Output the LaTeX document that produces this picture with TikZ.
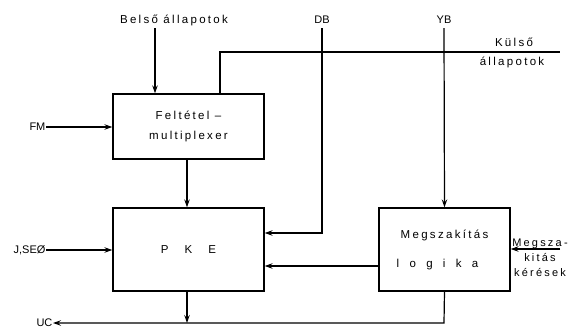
\documentclass[tikz,border=0pt]{standalone}
\usepackage{fontspec}
\setmainfont{Liberation Sans}
\newfontfamily\spaced{Liberation Sans}[LetterSpace=20]
\newfontfamily\wide{Liberation Sans}[LetterSpace=90]
\usetikzlibrary{arrows.meta}
\begin{document}
\begin{tikzpicture}[x=1pt,y=-1pt,
  line width=1.2pt,
  arr/.style={-{Stealth[length=8pt,width=5.5pt,inset=3pt]}},
  box/.style={draw,line width=1.3pt,inner sep=0pt,align=center},
  lbl/.style={font=\spaced\fontsize{11.5}{20}\selectfont,inner sep=0pt,align=center},
  plain/.style={font=\fontsize{11}{12}\selectfont,inner sep=0pt}]
\useasboundingbox (0,0) rectangle (574,330);
% boxes
\node[box,lbl,minimum width=151pt,minimum height=65pt] (fm) at (188.5,126.5) {Feltétel –\\multiplexer};
\node[box,lbl,minimum width=151pt,minimum height=83pt] (pke) at (188.5,249.5) {P\hspace{1.4em}K\hspace{1.4em}E};
\node[box,lbl,minimum width=131pt,minimum height=83pt] (ml) at (444.5,249.5) {Megszakítás\\[9pt]\hspace*{-14pt}{\wide logika}};
% labels
\node[lbl] (belso) at (174,20) {Belső állapotok};
\node[plain] (db) at (322,20) {DB};
\node[plain] (yb) at (444,20) {YB};
\node[lbl] (kulso) at (514,42) {Külső};
\node[lbl] (allap) at (512,62) {állapotok};
\node[plain,anchor=east] (fmin) at (46,127) {FM};
\node[plain,anchor=east] (jse) at (46,250) {J,SEØ};
\node[plain,anchor=east] (uc) at (53,323) {UC};
\node[lbl,font=\spaced\fontsize{11}{15}\selectfont] (mk) at (540,258) {Megsza-\\kitás\\kérések};
% coordinates
\coordinate (bt) at (155,28);
\coordinate (k1) at (220,52);
\coordinate (k2) at (560,52);
\coordinate (dbt) at (322,28);
\coordinate (dbb) at (322,233);
\coordinate (ybt) at (444,28);
\coordinate (bus) at (444,323);
\coordinate (mkr) at (560,249);
% connectors
\draw[arr] (bt) -- (bt |- fm.north);
\draw (fm.north -| k1) -- (k1) -- (k2);
\draw[arr] (dbt) -- (dbb) -- (dbb -| pke.east);
\draw[arr] (ybt) -- (ml.north);
\draw[arr] (ml.west |- 0,266) -- (pke.east |- 0,266);
\draw[arr] (ml.south) -- (bus) -- (uc.east);
\draw[arr] (pke.south -| 187,0) -- (bus -| 187,0);
\draw[arr] (fm.south -| 187,0) -- (pke.north -| 187,0);
\draw[arr] (fmin.east) -- (fmin.east -| fm.west);
\draw[arr] (jse.east) -- (jse.east -| pke.west);
\draw[arr] (mkr) -- (mkr -| ml.east);
\fill (dbt |- k1) circle (1.3pt);
\fill (ybt |- k1) circle (1.3pt);
\end{tikzpicture}
\end{document}
